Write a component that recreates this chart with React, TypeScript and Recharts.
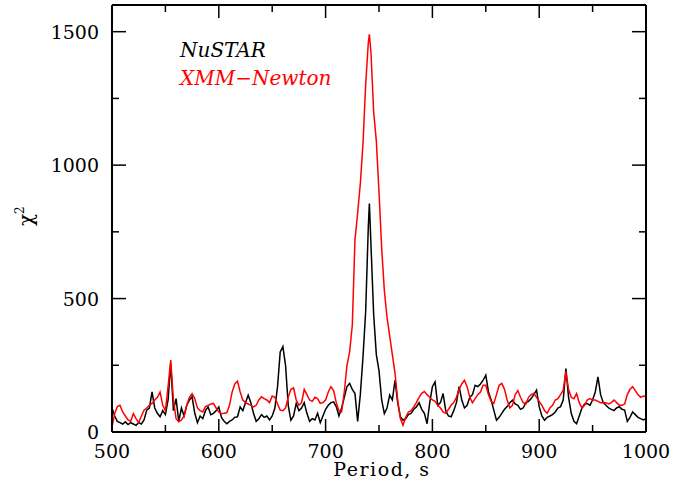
import React from "react";
import { LineChart, Line, XAxis, YAxis } from "recharts";

const periods = [
  500, 502.5, 505, 507.5, 510, 512.5, 515, 517.5, 520, 522.5,
  525, 527.5, 530, 532.5, 535, 537.5, 540, 542.5, 545, 547.5,
  550, 552.5, 555, 557.5, 560, 562.5, 565, 567.5, 570, 572.5,
  575, 577.5, 580, 582.5, 585, 587.5, 590, 592.5, 595, 597.5,
  600, 602.5, 605, 607.5, 610, 612.5, 615, 617.5, 620, 622.5,
  625, 627.5, 630, 632.5, 635, 637.5, 640, 642.5, 645, 647.5,
  650, 652.5, 655, 657.5, 660, 662.5, 665, 667.5, 670, 672.5,
  675, 677.5, 680, 682.5, 685, 687.5, 690, 692.5, 695, 697.5,
  700, 702.5, 705, 707.5, 710, 712.5, 715, 717.5, 720, 722.5,
  725, 727.5, 730, 732.5, 735, 737.5, 740, 741, 742.5, 745, 747.5,
  750, 752.5, 755, 757.5, 760, 762.5, 765, 767.5, 770, 772.5,
  775, 777.5, 780, 782.5, 785, 787.5, 790, 792.5, 795, 797.5,
  800, 802.5, 805, 807.5, 810, 812.5, 815, 817.5, 820, 822.5,
  825, 827.5, 830, 832.5, 835, 837.5, 840, 842.5, 845, 847.5,
  850, 852.5, 855, 857.5, 860, 862.5, 865, 867.5, 870, 872.5,
  875, 877.5, 880, 882.5, 885, 887.5, 890, 892.5, 895, 897.5,
  900, 902.5, 905, 907.5, 910, 912.5, 915, 917.5, 920, 922.5,
  925, 927.5, 930, 932.5, 935, 937.5, 940, 942.5, 945, 947.5,
  950, 952.5, 955, 957.5, 960, 962.5, 965, 967.5, 970, 972.5,
  975, 977.5, 980, 982.5, 985, 987.5, 990, 992.5, 995, 997.5,
  1000,
];

const nustar = [
  90, 60, 40, 35, 30, 38, 28, 35, 30, 25,
  35, 30, 45, 82, 90, 150, 90, 70, 57, 80,
  65, 120, 257, 80, 125, 40, 90, 60, 100, 120,
  132, 70, 35, 60, 50, 80, 94, 65, 70, 80,
  94, 55, 40, 31, 40, 45, 55, 57, 94, 80,
  110, 138, 110, 70, 40, 50, 65, 55, 60, 45,
  60, 90, 170, 300, 320, 250, 100, 44, 60, 107,
  80, 90, 110, 70, 40, 50, 45, 70, 35, 60,
  85, 100, 110, 113, 95, 60, 90, 130, 170, 182,
  160, 144, 40, 140, 280, 450, 770, 856, 700, 440, 290,
  230, 120, 69, 90, 138, 120, 194, 110, 57, 44,
  50, 65, 70, 85, 94, 110, 85, 70, 31, 110,
  170, 188, 100, 110, 144, 80, 60, 57, 80, 110,
  170, 120, 90, 100, 130, 140, 175, 170, 180, 194,
  213, 150, 120, 82, 44, 55, 70, 85, 95, 110,
  119, 105, 100, 85, 90, 110, 115, 125, 140, 157,
  95, 60, 44, 55, 60, 65, 75, 90, 95, 120,
  238, 130, 70, 40, 31, 60, 90, 105, 107, 100,
  120, 150, 207, 140, 110, 100, 90, 85, 80, 90,
  95, 85, 82, 40, 55, 75, 65, 55, 50, 45,
  50,
];

const xmm = [
  19, 69, 95, 100, 75, 60, 45, 40, 69, 50,
  35, 60, 82, 90, 100, 107, 120, 130, 150, 100,
  80, 170, 270, 120, 50, 38, 45, 60, 100, 130,
  144, 125, 90, 80, 75, 95, 100, 105, 107, 90,
  75, 69, 70, 72, 100, 150, 180, 190, 150, 120,
  110, 105, 100, 94, 100, 120, 132, 125, 120, 110,
  135, 130, 105, 82, 80, 90, 130, 160, 165, 120,
  100, 110, 160, 140, 120, 115, 130, 125, 107, 110,
  120, 150, 170, 155, 110, 80, 75, 150, 250, 300,
  400, 720, 820, 930, 1080, 1300, 1460, 1490, 1420, 1200, 1090,
  900, 690, 530, 430, 360, 290, 220, 120, 50, 25,
  55, 75, 80, 94, 110, 130, 145, 152, 140, 130,
  120, 115, 100, 90, 75, 70, 85, 100, 110, 130,
  160, 180, 194, 170, 130, 110, 125, 140, 150, 175,
  175, 140, 115, 107, 140, 175, 182, 160, 120, 90,
  100, 140, 155, 130, 110, 105, 130, 140, 145, 130,
  115, 100, 80, 70, 90, 100, 120, 125, 140, 157,
  226, 160, 130, 125, 144, 110, 90, 100, 120, 125,
  120, 120, 115, 110, 110, 110, 105, 110, 120, 110,
  100, 100, 105, 140, 160, 170, 155, 140, 130, 135,
  132,
];

const xTicks = [500, 550, 600, 650, 700, 750, 800, 850, 900, 950, 1000];
const yTicks = [0, 250, 500, 750, 1000, 1250, 1500];
const seriesNames = ["NuSTAR", "XMM\u2212Newton"];
const xTitle = "Period, s";

const data = periods.map((p, i) => ({ p, nustar: nustar[i], xmm: xmm[i] }));

const FONT = "'DejaVu Serif', serif";

const BottomTick = (props: any) => {
  const { x, y, payload } = props;
  const major = payload.value % 100 === 0;
  return (
    <g>
      <line x1={x} x2={x} y1={y} y2={y - (major ? 13 : 7)} stroke="#000" strokeWidth={1.5} />
      {major && (
        <text x={x} y={y + 26} textAnchor="middle" fontFamily={FONT} fontSize={19} fill="#000">
          {payload.value}
        </text>
      )}
    </g>
  );
};

const TopTick = (props: any) => {
  const { x, y, payload } = props;
  const major = payload.value % 100 === 0;
  return <line x1={x} x2={x} y1={y} y2={y + (major ? 13 : 7)} stroke="#000" strokeWidth={1.5} />;
};

const LeftTick = (props: any) => {
  const { x, y, payload } = props;
  const major = payload.value % 500 === 0;
  return (
    <g>
      <line x1={x} x2={x + (major ? 14 : 7)} y1={y} y2={y} stroke="#000" strokeWidth={1.5} />
      {major && (
        <text x={x - 13} y={y + 7} textAnchor="end" fontFamily={FONT} fontSize={19} fill="#000">
          {payload.value}
        </text>
      )}
    </g>
  );
};

const RightTick = (props: any) => {
  const { x, y, payload } = props;
  const major = payload.value % 500 === 0;
  return <line x1={x} x2={x - (major ? 14 : 7)} y1={y} y2={y} stroke="#000" strokeWidth={1.5} />;
};

export default function App() {
  return (
    <div style={{ position: "absolute", left: 0, top: 0, width: 699, height: 490, background: "#fff" }}>
      <LineChart width={699} height={490} data={data} margin={{ top: 3, right: 51, bottom: 28, left: 52 }}>
        <XAxis
          xAxisId="main"
          dataKey="p"
          type="number"
          domain={[500, 1000]}
          allowDataOverflow
          ticks={xTicks}
          interval={0}
          tickSize={0}
          tickMargin={0}
          height={30}
          axisLine={{ stroke: "#000", strokeWidth: 2 }}
          tick={<BottomTick />}
        />
        <XAxis
          xAxisId="top"
          dataKey="p"
          type="number"
          orientation="top"
          domain={[500, 1000]}
          allowDataOverflow
          ticks={xTicks}
          interval={0}
          tickSize={0}
          tickMargin={0}
          height={2}
          axisLine={{ stroke: "#000", strokeWidth: 2 }}
          tick={<TopTick />}
        />
        <YAxis
          yAxisId="left"
          type="number"
          domain={[0, 1600]}
          allowDataOverflow
          ticks={yTicks}
          interval={0}
          tickSize={0}
          tickMargin={0}
          width={60}
          axisLine={{ stroke: "#000", strokeWidth: 2 }}
          tick={<LeftTick />}
        />
        <YAxis
          yAxisId="right"
          orientation="right"
          type="number"
          domain={[0, 1600]}
          allowDataOverflow
          ticks={yTicks}
          interval={0}
          tickSize={0}
          tickMargin={0}
          width={2}
          axisLine={{ stroke: "#000", strokeWidth: 2 }}
          tick={<RightTick />}
        />
        <Line
          xAxisId="main"
          yAxisId="left"
          type="linear"
          dataKey="nustar"
          stroke="#000000"
          strokeWidth={1.5}
          dot={false}
          isAnimationActive={false}
        />
        <Line
          xAxisId="top"
          yAxisId="right"
          type="linear"
          dataKey="xmm"
          stroke="#ff0000"
          strokeWidth={1.5}
          dot={false}
          isAnimationActive={false}
        />
      </LineChart>
      <svg
        width={699}
        height={490}
        style={{ position: "absolute", left: 0, top: 0, pointerEvents: "none" }}
      >
        <text x={180} y={57} fontFamily={FONT} fontStyle="italic" fontSize={20} fill="#000">
          {seriesNames[0]}
        </text>
        <text x={180} y={85} fontFamily={FONT} fontStyle="italic" fontSize={20} fill="#ff0000">
          {seriesNames[1]}
        </text>
        <text x={382} y={476} textAnchor="middle" fontFamily={FONT} fontSize={19} letterSpacing={1.5} fill="#000">
          {xTitle}
        </text>
        <text
          x={0}
          y={0}
          transform="translate(33,226) rotate(-90)"
          fontFamily={FONT}
          fontSize={20}
          fill="#000"
        >
          {"\u03c7"}
          <tspan fontSize={12} dy={-9}>2</tspan>
        </text>
      </svg>
    </div>
  );
}
